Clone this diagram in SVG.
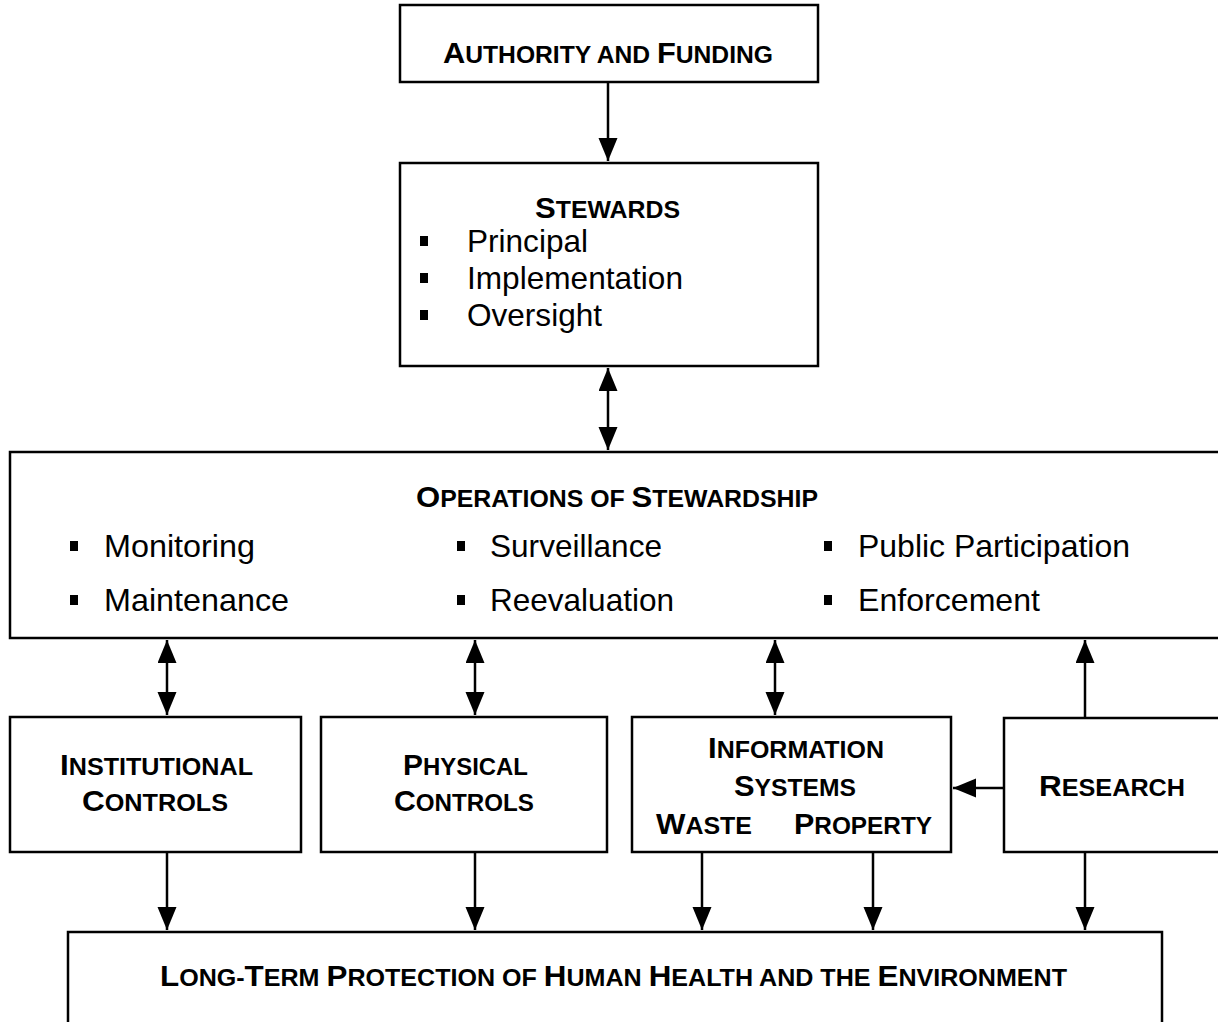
<svg xmlns="http://www.w3.org/2000/svg" width="1218" height="1022" viewBox="0 0 1218 1022">
<style>
.box{fill:#fff;stroke:#000;stroke-width:2.5}
.t{font-family:"Liberation Sans",Arial,sans-serif;font-weight:bold;fill:#000}
.b{font-size:30px}
.s{font-size:24px}
.body{font-family:"Liberation Sans",Arial,sans-serif;font-size:32px;fill:#000}
.blt{fill:#000}
.c{fill:none;stroke:#000;stroke-width:2.5}
</style>
<defs>
<marker id="ah" markerUnits="userSpaceOnUse" markerWidth="26" markerHeight="20" refX="23" refY="9.5" orient="auto-start-reverse" viewBox="0 0 26 20">
<path d="M0,0 L23,9.5 L0,19 z" fill="#000"/>
</marker>
</defs>
<rect width="1218" height="1022" fill="#fff"/>
<g id="connectors">
<line class="c" x1="608" y1="82" x2="608" y2="161" marker-end="url(#ah)"/>
<line class="c" x1="608" y1="368" x2="608" y2="450" marker-start="url(#ah)" marker-end="url(#ah)"/>
<line class="c" x1="167" y1="640" x2="167" y2="715" marker-start="url(#ah)" marker-end="url(#ah)"/>
<line class="c" x1="475" y1="640" x2="475" y2="715" marker-start="url(#ah)" marker-end="url(#ah)"/>
<line class="c" x1="775" y1="640" x2="775" y2="715" marker-start="url(#ah)" marker-end="url(#ah)"/>
<line class="c" x1="1085" y1="717" x2="1085" y2="640" marker-end="url(#ah)"/>
<line class="c" x1="1004" y1="788" x2="953" y2="788" marker-end="url(#ah)"/>
<line class="c" x1="167" y1="852" x2="167" y2="930" marker-end="url(#ah)"/>
<line class="c" x1="475" y1="852" x2="475" y2="930" marker-end="url(#ah)"/>
<line class="c" x1="702" y1="852" x2="702" y2="930" marker-end="url(#ah)"/>
<line class="c" x1="873" y1="852" x2="873" y2="930" marker-end="url(#ah)"/>
<line class="c" x1="1085" y1="852" x2="1085" y2="930" marker-end="url(#ah)"/>
</g>
<g id="authority">
<rect class="box" x="400" y="5" width="418" height="77"/>
<text class="t" x="443" y="63" textLength="330" lengthAdjust="spacingAndGlyphs"><tspan class="b">A</tspan><tspan class="s">UTHORITY AND </tspan><tspan class="b">F</tspan><tspan class="s">UNDING</tspan></text>
</g>
<g id="stewards">
<rect class="box" x="400" y="163" width="418" height="203"/>
<text class="t" x="535" y="218" textLength="145" lengthAdjust="spacingAndGlyphs"><tspan class="b">S</tspan><tspan class="s">TEWARDS</tspan></text>
<rect class="blt" x="420" y="236" width="8" height="10"/>
<rect class="blt" x="420" y="273" width="8" height="10"/>
<rect class="blt" x="420" y="310" width="8" height="10"/>
<text class="body" x="467" y="252" textLength="121" lengthAdjust="spacingAndGlyphs">Principal</text>
<text class="body" x="467" y="289" textLength="216" lengthAdjust="spacingAndGlyphs">Implementation</text>
<text class="body" x="467" y="326" textLength="135" lengthAdjust="spacingAndGlyphs">Oversight</text>
</g>
<g id="operations">
<rect class="box" x="10" y="452" width="1220" height="186"/>
<text class="t" x="416" y="507" textLength="402" lengthAdjust="spacingAndGlyphs"><tspan class="b">O</tspan><tspan class="s">PERATIONS OF </tspan><tspan class="b">S</tspan><tspan class="s">TEWARDSHIP</tspan></text>
<rect class="blt" x="70" y="541" width="8" height="10"/>
<rect class="blt" x="70" y="595" width="8" height="10"/>
<rect class="blt" x="457" y="541" width="8" height="10"/>
<rect class="blt" x="457" y="595" width="8" height="10"/>
<rect class="blt" x="824" y="541" width="8" height="10"/>
<rect class="blt" x="824" y="595" width="8" height="10"/>
<text class="body" x="104" y="557" textLength="151" lengthAdjust="spacingAndGlyphs">Monitoring</text>
<text class="body" x="104" y="611" textLength="185" lengthAdjust="spacingAndGlyphs">Maintenance</text>
<text class="body" x="490" y="557" textLength="172" lengthAdjust="spacingAndGlyphs">Surveillance</text>
<text class="body" x="490" y="611" textLength="184" lengthAdjust="spacingAndGlyphs">Reevaluation</text>
<text class="body" x="858" y="557" textLength="272" lengthAdjust="spacingAndGlyphs">Public Participation</text>
<text class="body" x="858" y="611" textLength="182" lengthAdjust="spacingAndGlyphs">Enforcement</text>
</g>
<g id="institutional">
<rect class="box" x="10" y="717" width="291" height="135"/>
<text class="t" x="60" y="775" textLength="193" lengthAdjust="spacingAndGlyphs"><tspan class="b">I</tspan><tspan class="s">NSTITUTIONAL</tspan></text>
<text class="t" x="82" y="811" textLength="146" lengthAdjust="spacingAndGlyphs"><tspan class="b">C</tspan><tspan class="s">ONTROLS</tspan></text>
</g>
<g id="physical">
<rect class="box" x="321" y="717" width="286" height="135"/>
<text class="t" x="403" y="775" textLength="125" lengthAdjust="spacingAndGlyphs"><tspan class="b">P</tspan><tspan class="s">HYSICAL</tspan></text>
<text class="t" x="394" y="811" textLength="140" lengthAdjust="spacingAndGlyphs"><tspan class="b">C</tspan><tspan class="s">ONTROLS</tspan></text>
</g>
<g id="information">
<rect class="box" x="632" y="717" width="319" height="135"/>
<text class="t" x="708" y="758" textLength="176" lengthAdjust="spacingAndGlyphs"><tspan class="b">I</tspan><tspan class="s">NFORMATION</tspan></text>
<text class="t" x="734" y="796" textLength="122" lengthAdjust="spacingAndGlyphs"><tspan class="b">S</tspan><tspan class="s">YSTEMS</tspan></text>
<text class="t" x="656" y="834" textLength="96" lengthAdjust="spacingAndGlyphs"><tspan class="b">W</tspan><tspan class="s">ASTE</tspan></text>
<text class="t" x="794" y="834" textLength="138" lengthAdjust="spacingAndGlyphs"><tspan class="b">P</tspan><tspan class="s">ROPERTY</tspan></text>
</g>
<g id="research">
<rect class="box" x="1004" y="718" width="230" height="134"/>
<text class="t" x="1039" y="796" textLength="146" lengthAdjust="spacingAndGlyphs"><tspan class="b">R</tspan><tspan class="s">ESEARCH</tspan></text>
</g>
<g id="protection">
<rect class="box" x="68" y="932" width="1094" height="100"/>
<text class="t" x="160" y="986" textLength="907" lengthAdjust="spacingAndGlyphs"><tspan class="b">L</tspan><tspan class="s">ONG-</tspan><tspan class="b">T</tspan><tspan class="s">ERM </tspan><tspan class="b">P</tspan><tspan class="s">ROTECTION OF </tspan><tspan class="b">H</tspan><tspan class="s">UMAN </tspan><tspan class="b">H</tspan><tspan class="s">EALTH AND THE </tspan><tspan class="b">E</tspan><tspan class="s">NVIRONMENT</tspan></text>
</g>
</svg>
